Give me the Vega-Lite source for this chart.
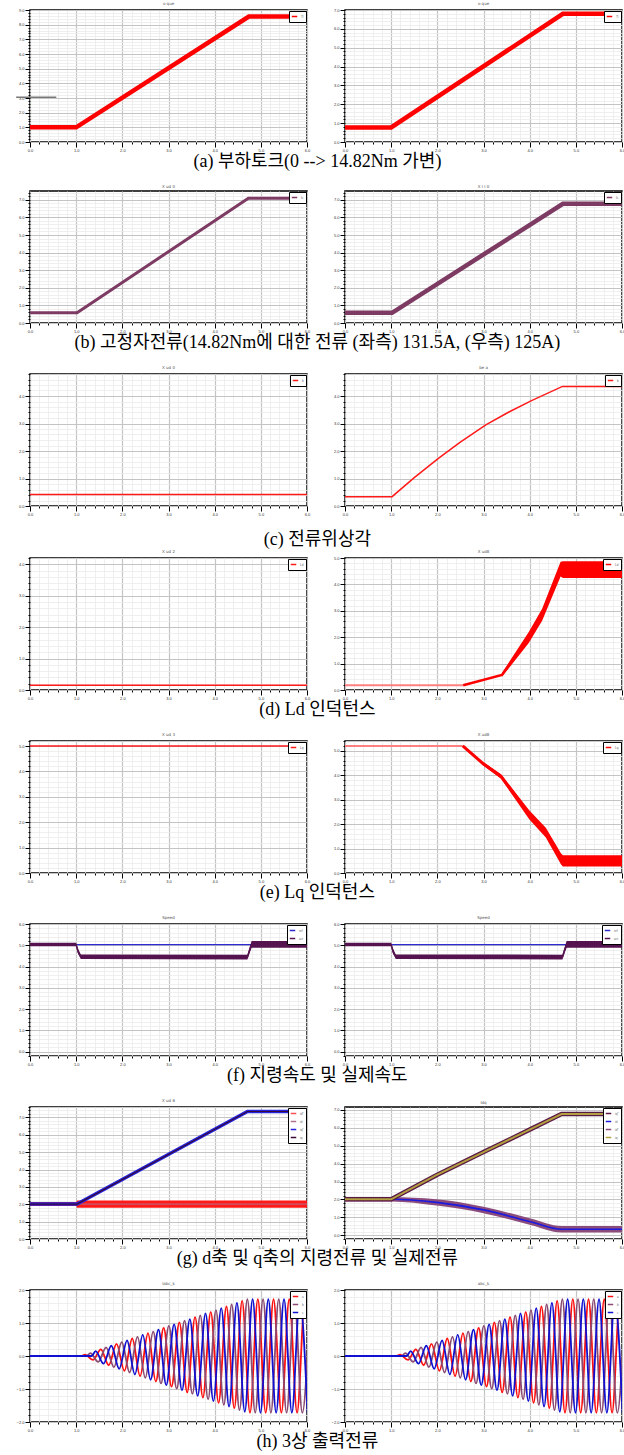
{
"$schema": "https://vega.github.io/schema/vega-lite/v6.json",
"background": "white",
"padding": {"left": 9, "top": 1, "right": 0, "bottom": 0},
"spacing": 0,
"resolve": {"scale": {"color": "independent"}, "legend": {"color": "independent"}},
"datasets": {
"aL": [{"x":0,"y":1,"s":"Tl"},{"x":1,"y":1,"s":"Tl"},{"x":4.74,"y":8.55,"s":"Tl"},{"x":6,"y":8.55,"s":"Tl"}],
"aLg": [{"x":-0.3,"y":3.05},{"x":0.57,"y":3.05}],
"aR": [{"x":0,"y":0.77,"s":"Tl"},{"x":1,"y":0.77,"s":"Tl"},{"x":4.72,"y":6.8,"s":"Tl"},{"x":6,"y":6.8,"s":"Tl"}],
"bL": [{"x":0,"y":0.58,"s":"Is"},{"x":1.02,"y":0.58,"s":"Is"},{"x":4.73,"y":7.09,"s":"Is"},{"x":6,"y":7.09,"s":"Is"}],
"bR": [{"x":0,"y":0.58,"s":"Is"},{"x":1.02,"y":0.58,"s":"Is"},{"x":4.72,"y":6.77,"s":"Is"},{"x":6,"y":6.77,"s":"Is"}],
"cL": [{"x":0,"y":0.42,"s":"b"},{"x":6,"y":0.42,"s":"b"}],
"cR": [{"x":0,"y":0.34,"s":"b"},{"x":1.02,"y":0.34,"s":"b"},{"x":1.5,"y":1.03,"s":"b"},{"x":2.03,"y":1.74,"s":"b"},{"x":2.49,"y":2.31,"s":"b"},{"x":3.05,"y":2.95,"s":"b"},{"x":3.54,"y":3.41,"s":"b"},{"x":4.04,"y":3.83,"s":"b"},{"x":4.71,"y":4.35,"s":"b"},{"x":6,"y":4.35,"s":"b"}],
"dL": [{"x":0,"y":0.15,"s":"Ld"},{"x":6,"y":0.15,"s":"Ld"}],
"dRp": [{"x":0,"y":0.18},{"x":2.56,"y":0.18}],
"dRl": [{"x":2.56,"y":0.18,"s":"Ld"},{"x":3.4,"y":0.57,"s":"Ld"},{"x":3.98,"y":1.99,"s":"Ld"},{"x":4.27,"y":2.85,"s":"Ld"},{"x":4.67,"y":4.58,"s":"Ld"},{"x":4.72,"y":4.56,"s":"Ld"},{"x":6,"y":4.56,"s":"Ld"}],
"dRb": [{"x":3.4,"y":0.64,"y2":0.5},{"x":3.98,"y":2.2,"y2":1.78},{"x":4.27,"y":3.08,"y2":2.62},{"x":4.67,"y":4.86,"y2":4.3},{"x":4.72,"y":4.88,"y2":4.24},{"x":6,"y":4.88,"y2":4.24}],
"eL": [{"x":0,"y":5.0,"s":"Lq"},{"x":6,"y":5.0,"s":"Lq"}],
"eRp": [{"x":0,"y":5.2},{"x":2.55,"y":5.2}],
"eRl": [{"x":2.55,"y":5.2,"s":"Lq"},{"x":2.98,"y":4.49,"s":"Lq"},{"x":3.38,"y":3.95,"s":"Lq"},{"x":3.99,"y":2.39,"s":"Lq"},{"x":4.35,"y":1.65,"s":"Lq"},{"x":4.68,"y":0.6,"s":"Lq"},{"x":4.72,"y":0.5,"s":"Lq"},{"x":6,"y":0.5,"s":"Lq"}],
"eRb": [{"x":2.98,"y":4.56,"y2":4.42},{"x":3.38,"y":4.04,"y2":3.86},{"x":3.99,"y":2.57,"y2":2.2},{"x":4.35,"y":1.85,"y2":1.45},{"x":4.68,"y":0.8,"y2":0.35},{"x":4.72,"y":0.73,"y2":0.27},{"x":6,"y":0.73,"y2":0.27}],
"fb": [{"x":0,"y":5.03,"s":"ref"},{"x":6,"y":5.03,"s":"ref"}],
"fp": [{"x":0,"y":5.03,"s":"act"},{"x":1.0,"y":5.03,"s":"act"},{"x":1.04,"y":4.7,"s":"act"},{"x":1.1,"y":4.47,"s":"act"},{"x":4.71,"y":4.45,"s":"act"},{"x":4.76,"y":4.8,"s":"act"},{"x":4.8,"y":5.04,"s":"act"},{"x":6,"y":5.04,"s":"act"}],
"fa": [{"x":0,"y":5.12,"y2":4.95},{"x":1.0,"y":5.12,"y2":4.95},{"x":1.04,"y":4.85,"y2":4.6},{"x":1.1,"y":4.57,"y2":4.36},{"x":4.71,"y":4.56,"y2":4.33},{"x":4.76,"y":4.92,"y2":4.65},{"x":4.8,"y":5.2,"y2":4.88},{"x":6,"y":5.2,"y2":4.88}],
"gLb": [{"x":0,"y":2.13,"y2":1.9},{"x":1.0,"y":2.13,"y2":1.9},{"x":1.02,"y":2.22,"y2":1.8},{"x":6,"y":2.22,"y2":1.8}],
"gLd": [{"x":0,"y":2.01,"s":"id"},{"x":6,"y":2.01,"s":"id"}],
"gLq": [{"x":0,"y":2.01,"s":"iq*"},{"x":1.02,"y":2.01,"s":"iq*"},{"x":4.71,"y":7.34,"s":"iq*"},{"x":6,"y":7.34,"s":"iq*"}],
"gLq2": [{"x":0,"y":2.01,"s":"iq"},{"x":1.02,"y":2.01,"s":"iq"},{"x":4.71,"y":7.34,"s":"iq"},{"x":6,"y":7.34,"s":"iq"}],
"gRb": [{"x":0,"y":2.13,"y2":1.89},{"x":1.0,"y":2.13,"y2":1.89},{"x":1.98,"y":2.02,"y2":1.66},{"x":3.0,"y":1.6,"y2":1.24},{"x":4.02,"y":0.94,"y2":0.58},{"x":4.69,"y":0.52,"y2":0.16},{"x":6,"y":0.52,"y2":0.16}],
"gRl": [{"x":0,"y":2.01,"s":"id"},{"x":1.0,"y":2.01,"s":"id"},{"x":1.98,"y":1.84,"s":"id"},{"x":3.0,"y":1.42,"s":"id"},{"x":4.02,"y":0.76,"s":"id"},{"x":4.69,"y":0.34,"s":"id"},{"x":6,"y":0.34,"s":"id"}],
"gRu": [{"x":0,"y":2.01,"s":"iq*"},{"x":1.0,"y":2.01,"s":"iq*"},{"x":2.0,"y":3.38,"s":"iq*"},{"x":3.0,"y":4.64,"s":"iq*"},{"x":4.0,"y":5.89,"s":"iq*"},{"x":4.69,"y":6.76,"s":"iq*"},{"x":6,"y":6.76,"s":"iq*"}],
"gRo": [{"x":0,"y":2.01,"s":"iq"},{"x":1.0,"y":2.01,"s":"iq"},{"x":2.0,"y":3.38,"s":"iq"},{"x":3.0,"y":4.64,"s":"iq"},{"x":4.0,"y":5.89,"s":"iq"},{"x":4.69,"y":6.76,"s":"iq"},{"x":6,"y":6.76,"s":"iq"}],
"h": [
{"x":0,"y":0,"s":"a"},{"x":1.11,"y":0,"s":"a"},{"x":1.195,"y":0.04,"s":"a"},{"x":1.365,"y":-0.12,"s":"a"},{"x":1.535,"y":0.2,"s":"a"},{"x":1.705,"y":-0.28,"s":"a"},{"x":1.875,"y":0.37,"s":"a"},{"x":2.045,"y":-0.45,"s":"a"},{"x":2.215,"y":0.53,"s":"a"},{"x":2.385,"y":-0.61,"s":"a"},{"x":2.555,"y":0.69,"s":"a"},{"x":2.725,"y":-0.77,"s":"a"},{"x":2.895,"y":0.85,"s":"a"},{"x":3.065,"y":-0.93,"s":"a"},{"x":3.235,"y":1.02,"s":"a"},{"x":3.405,"y":-1.1,"s":"a"},{"x":3.575,"y":1.18,"s":"a"},{"x":3.745,"y":-1.26,"s":"a"},{"x":3.915,"y":1.34,"s":"a"},{"x":4.085,"y":-1.42,"s":"a"},{"x":4.255,"y":1.5,"s":"a"},{"x":4.425,"y":-1.58,"s":"a"},{"x":4.595,"y":1.67,"s":"a"},{"x":4.765,"y":-1.72,"s":"a"},{"x":4.935,"y":1.72,"s":"a"},{"x":5.105,"y":-1.72,"s":"a"},{"x":5.275,"y":1.72,"s":"a"},{"x":5.445,"y":-1.72,"s":"a"},{"x":5.615,"y":1.72,"s":"a"},{"x":5.785,"y":-1.72,"s":"a"},{"x":5.955,"y":1.72,"s":"a"},{"x":6.125,"y":-1.72,"s":"a"},
{"x":0,"y":0,"s":"b"},{"x":1.223,"y":0,"s":"b"},{"x":1.308,"y":0.09,"s":"b"},{"x":1.478,"y":-0.18,"s":"b"},{"x":1.648,"y":0.26,"s":"b"},{"x":1.818,"y":-0.34,"s":"b"},{"x":1.988,"y":0.42,"s":"b"},{"x":2.158,"y":-0.5,"s":"b"},{"x":2.328,"y":0.58,"s":"b"},{"x":2.498,"y":-0.66,"s":"b"},{"x":2.668,"y":0.74,"s":"b"},{"x":2.838,"y":-0.83,"s":"b"},{"x":3.008,"y":0.91,"s":"b"},{"x":3.178,"y":-0.99,"s":"b"},{"x":3.348,"y":1.07,"s":"b"},{"x":3.518,"y":-1.15,"s":"b"},{"x":3.688,"y":1.23,"s":"b"},{"x":3.858,"y":-1.31,"s":"b"},{"x":4.028,"y":1.39,"s":"b"},{"x":4.198,"y":-1.48,"s":"b"},{"x":4.368,"y":1.56,"s":"b"},{"x":4.538,"y":-1.64,"s":"b"},{"x":4.708,"y":1.72,"s":"b"},{"x":4.878,"y":-1.72,"s":"b"},{"x":5.048,"y":1.72,"s":"b"},{"x":5.218,"y":-1.72,"s":"b"},{"x":5.388,"y":1.72,"s":"b"},{"x":5.558,"y":-1.72,"s":"b"},{"x":5.728,"y":1.72,"s":"b"},{"x":5.898,"y":-1.72,"s":"b"},{"x":6.068,"y":1.72,"s":"b"},
{"x":0,"y":0,"s":"c"},{"x":1.337,"y":0,"s":"c"},{"x":1.422,"y":0.15,"s":"c"},{"x":1.592,"y":-0.23,"s":"c"},{"x":1.762,"y":0.31,"s":"c"},{"x":1.932,"y":-0.39,"s":"c"},{"x":2.102,"y":0.47,"s":"c"},{"x":2.272,"y":-0.56,"s":"c"},{"x":2.442,"y":0.64,"s":"c"},{"x":2.612,"y":-0.72,"s":"c"},{"x":2.782,"y":0.8,"s":"c"},{"x":2.952,"y":-0.88,"s":"c"},{"x":3.122,"y":0.96,"s":"c"},{"x":3.292,"y":-1.04,"s":"c"},{"x":3.462,"y":1.12,"s":"c"},{"x":3.632,"y":-1.21,"s":"c"},{"x":3.802,"y":1.29,"s":"c"},{"x":3.972,"y":-1.37,"s":"c"},{"x":4.142,"y":1.45,"s":"c"},{"x":4.312,"y":-1.53,"s":"c"},{"x":4.482,"y":1.61,"s":"c"},{"x":4.652,"y":-1.69,"s":"c"},{"x":4.822,"y":1.72,"s":"c"},{"x":4.992,"y":-1.72,"s":"c"},{"x":5.162,"y":1.72,"s":"c"},{"x":5.332,"y":-1.72,"s":"c"},{"x":5.502,"y":1.72,"s":"c"},{"x":5.672,"y":-1.72,"s":"c"},{"x":5.842,"y":1.72,"s":"c"},{"x":6.012,"y":-1.72,"s":"c"}
]
},
"vconcat": [
{"spacing": 13,
 "resolve": {"scale": {"color": "independent"}, "legend": {"color": "independent"}},
 "vconcat": [
{"title": {"text": "(a) 부하토크(0 --> 14.82Nm 가변)", "orient": "bottom", "anchor": "middle", "fontSize": 18, "font": "Liberation Serif, Noto Sans CJK KR", "color": "#000", "offset": 0},
 "spacing": 13,
 "resolve": {"scale": {"color": "independent"}, "legend": {"color": "independent"}},
 "hconcat": [
 {"title": "o que", "width": 277, "height": 132,
  "encoding": {"x": {"field":"x","type":"quantitative","title":null,"scale":{"domain":[0,6],"nice":false,"zero":false},"axis":{"values":[0,0.2,0.4,0.6,0.8,1,1.2,1.4,1.6,1.8,2,2.2,2.4,2.6,2.8,3,3.2,3.4,3.6,3.8,4,4.2,4.4,4.6,4.8,5,5.2,5.4,5.6,5.8,6]}},
   "y": {"field":"y","type":"quantitative","title":null,"scale":{"domain":[0,9],"nice":false,"zero":false},"axis":{"values":[0,0.2,0.4,0.6,0.8,1,1.2,1.4,1.6,1.8,2,2.2,2.4,2.6,2.8,3,3.2,3.4,3.6,3.8,4,4.2,4.4,4.6,4.8,5,5.2,5.4,5.6,5.8,6,6.2,6.4,6.6,6.8,7,7.2,7.4,7.6,7.8,8,8.2,8.4,8.6,8.8,9]}}},
  "layer": [
   {"data": {"name": "aL"}, "mark": {"type":"line","strokeWidth":4.5,"clip":true}, "encoding": {"color": {"field":"s","type":"nominal","title":null,"scale":{"domain":["Tl"],"range":["#ff0000"]}}}},
   {"data": {"name": "aLg"}, "mark": {"type":"line","strokeWidth":1.5,"color":"#777","clip":false}}
  ]},
 {"title": "o que", "width": 277, "height": 132, "data": {"name": "aR"},
  "encoding": {"x": {"field":"x","type":"quantitative","title":null,"scale":{"domain":[0,6],"nice":false,"zero":false},"axis":{"values":[0,0.2,0.4,0.6,0.8,1,1.2,1.4,1.6,1.8,2,2.2,2.4,2.6,2.8,3,3.2,3.4,3.6,3.8,4,4.2,4.4,4.6,4.8,5,5.2,5.4,5.6,5.8,6]}},
   "y": {"field":"y","type":"quantitative","title":null,"scale":{"domain":[0,7],"nice":false,"zero":false},"axis":{"values":[0,0.2,0.4,0.6,0.8,1,1.2,1.4,1.6,1.8,2,2.2,2.4,2.6,2.8,3,3.2,3.4,3.6,3.8,4,4.2,4.4,4.6,4.8,5,5.2,5.4,5.6,5.8,6,6.2,6.4,6.6,6.8,7]}}},
  "layer": [{"mark": {"type":"line","strokeWidth":4.5,"clip":true}, "encoding": {"color": {"field":"s","type":"nominal","title":null,"scale":{"domain":["Tl"],"range":["#ff0000"]}}}}]}
 ]},
{"title": {"text": "(b) 고정자전류(14.82Nm에 대한 전류 (좌측) 131.5A, (우측) 125A)", "orient": "bottom", "anchor": "middle", "fontSize": 18, "font": "Liberation Serif, Noto Sans CJK KR", "color": "#000", "offset": 0},
 "spacing": 13,
 "resolve": {"scale": {"color": "independent"}, "legend": {"color": "independent"}},
 "hconcat": [
 {"title": "X  ud 0", "width": 277, "height": 132, "data": {"name": "bL"},
  "encoding": {"x": {"field":"x","type":"quantitative","title":null,"scale":{"domain":[0,6],"nice":false,"zero":false},"axis":{"values":[0,0.2,0.4,0.6,0.8,1,1.2,1.4,1.6,1.8,2,2.2,2.4,2.6,2.8,3,3.2,3.4,3.6,3.8,4,4.2,4.4,4.6,4.8,5,5.2,5.4,5.6,5.8,6]}},
   "y": {"field":"y","type":"quantitative","title":null,"scale":{"domain":[0,7.5],"nice":false,"zero":false},"axis":{"values":[0,0.2,0.4,0.6,0.8,1,1.2,1.4,1.6,1.8,2,2.2,2.4,2.6,2.8,3,3.2,3.4,3.6,3.8,4,4.2,4.4,4.6,4.8,5,5.2,5.4,5.6,5.8,6,6.2,6.4,6.6,6.8,7,7.2,7.4]}}},
  "layer": [{"mark": {"type":"line","strokeWidth":3,"clip":true}, "encoding": {"color": {"field":"s","type":"nominal","title":null,"scale":{"domain":["Is"],"range":["#7d3a63"]}}}}]},
 {"title": "X  I I 0", "width": 277, "height": 132, "data": {"name": "bR"},
  "encoding": {"x": {"field":"x","type":"quantitative","title":null,"scale":{"domain":[0,6],"nice":false,"zero":false},"axis":{"values":[0,0.2,0.4,0.6,0.8,1,1.2,1.4,1.6,1.8,2,2.2,2.4,2.6,2.8,3,3.2,3.4,3.6,3.8,4,4.2,4.4,4.6,4.8,5,5.2,5.4,5.6,5.8,6]}},
   "y": {"field":"y","type":"quantitative","title":null,"scale":{"domain":[0,7.5],"nice":false,"zero":false},"axis":{"values":[0,0.2,0.4,0.6,0.8,1,1.2,1.4,1.6,1.8,2,2.2,2.4,2.6,2.8,3,3.2,3.4,3.6,3.8,4,4.2,4.4,4.6,4.8,5,5.2,5.4,5.6,5.8,6,6.2,6.4,6.6,6.8,7,7.2,7.4]}}},
  "layer": [{"mark": {"type":"line","strokeWidth":4.5,"clip":true}, "encoding": {"color": {"field":"s","type":"nominal","title":null,"scale":{"domain":["Is"],"range":["#7d3a63"]}}}}]}
 ]},
{"title": {"text": "(c) 전류위상각", "orient": "bottom", "anchor": "middle", "fontSize": 18, "font": "Liberation Serif, Noto Sans CJK KR", "color": "#000", "offset": 14},
 "spacing": 13,
 "resolve": {"scale": {"color": "independent"}, "legend": {"color": "independent"}},
 "hconcat": [
 {"title": "X  ud 0", "width": 277, "height": 132, "data": {"name": "cL"},
  "encoding": {"x": {"field":"x","type":"quantitative","title":null,"scale":{"domain":[0,6],"nice":false,"zero":false},"axis":{"values":[0,0.2,0.4,0.6,0.8,1,1.2,1.4,1.6,1.8,2,2.2,2.4,2.6,2.8,3,3.2,3.4,3.6,3.8,4,4.2,4.4,4.6,4.8,5,5.2,5.4,5.6,5.8,6]}},
   "y": {"field":"y","type":"quantitative","title":null,"scale":{"domain":[0,4.8],"nice":false,"zero":false},"axis":{"values":[0,0.2,0.4,0.6,0.8,1,1.2,1.4,1.6,1.8,2,2.2,2.4,2.6,2.8,3,3.2,3.4,3.6,3.8,4,4.2,4.4,4.6,4.8]}}},
  "layer": [{"mark": {"type":"line","strokeWidth":1.5,"clip":true}, "encoding": {"color": {"field":"s","type":"nominal","title":null,"scale":{"domain":["b"],"range":["#ff1a1a"]}}}}]},
 {"title": "be a", "width": 277, "height": 132, "data": {"name": "cR"},
  "encoding": {"x": {"field":"x","type":"quantitative","title":null,"scale":{"domain":[0,6],"nice":false,"zero":false},"axis":{"values":[0,0.2,0.4,0.6,0.8,1,1.2,1.4,1.6,1.8,2,2.2,2.4,2.6,2.8,3,3.2,3.4,3.6,3.8,4,4.2,4.4,4.6,4.8,5,5.2,5.4,5.6,5.8,6]}},
   "y": {"field":"y","type":"quantitative","title":null,"scale":{"domain":[0,4.8],"nice":false,"zero":false},"axis":{"values":[0,0.2,0.4,0.6,0.8,1,1.2,1.4,1.6,1.8,2,2.2,2.4,2.6,2.8,3,3.2,3.4,3.6,3.8,4,4.2,4.4,4.6,4.8]}}},
  "layer": [{"mark": {"type":"line","strokeWidth":1.5,"clip":true}, "encoding": {"color": {"field":"s","type":"nominal","title":null,"scale":{"domain":["b"],"range":["#ff1a1a"]}}}}]}
 ]}
 ]},
{"spacing": 13,
 "resolve": {"scale": {"color": "independent"}, "legend": {"color": "independent"}},
 "vconcat": [
{"title": {"text": "(d) Ld 인덕턴스", "orient": "bottom", "anchor": "middle", "fontSize": 18, "font": "Liberation Serif, Noto Sans CJK KR", "color": "#000", "offset": 0},
 "spacing": 13,
 "resolve": {"scale": {"color": "independent"}, "legend": {"color": "independent"}},
 "hconcat": [
 {"title": "X  ud 2", "width": 277, "height": 132, "data": {"name": "dL"},
  "encoding": {"x": {"field":"x","type":"quantitative","title":null,"scale":{"domain":[0,6],"nice":false,"zero":false},"axis":{"values":[0,0.2,0.4,0.6,0.8,1,1.2,1.4,1.6,1.8,2,2.2,2.4,2.6,2.8,3,3.2,3.4,3.6,3.8,4,4.2,4.4,4.6,4.8,5,5.2,5.4,5.6,5.8,6]}},
   "y": {"field":"y","type":"quantitative","title":null,"scale":{"domain":[0,4.2],"nice":false,"zero":false},"axis":{"values":[0,0.2,0.4,0.6,0.8,1,1.2,1.4,1.6,1.8,2,2.2,2.4,2.6,2.8,3,3.2,3.4,3.6,3.8,4,4.2]}}},
  "layer": [{"mark": {"type":"line","strokeWidth":1.5,"clip":true}, "encoding": {"color": {"field":"s","type":"nominal","title":null,"scale":{"domain":["Ld"],"range":["#ff1a1a"]}}}}]},
 {"title": "X  ud8", "width": 277, "height": 132,
  "encoding": {"x": {"field":"x","type":"quantitative","title":null,"scale":{"domain":[0,6],"nice":false,"zero":false},"axis":{"values":[0,0.2,0.4,0.6,0.8,1,1.2,1.4,1.6,1.8,2,2.2,2.4,2.6,2.8,3,3.2,3.4,3.6,3.8,4,4.2,4.4,4.6,4.8,5,5.2,5.4,5.6,5.8,6]}},
   "y": {"field":"y","type":"quantitative","title":null,"scale":{"domain":[0,5],"nice":false,"zero":false},"axis":{"values":[0,0.2,0.4,0.6,0.8,1,1.2,1.4,1.6,1.8,2,2.2,2.4,2.6,2.8,3,3.2,3.4,3.6,3.8,4,4.2,4.4,4.6,4.8,5]}}},
  "layer": [
   {"data": {"name": "dRp"}, "mark": {"type":"line","strokeWidth":2,"color":"#ff8080","clip":true}},
   {"data": {"name": "dRb"}, "mark": {"type":"area","color":"#ff0000","clip":true}, "encoding": {"y2": {"field":"y2"}}},
   {"data": {"name": "dRl"}, "mark": {"type":"line","strokeWidth":2.5,"clip":true}, "encoding": {"color": {"field":"s","type":"nominal","title":null,"scale":{"domain":["Ld"],"range":["#ff0000"]}}}}
  ]}
 ]},
{"title": {"text": "(e) Lq 인덕턴스", "orient": "bottom", "anchor": "middle", "fontSize": 18, "font": "Liberation Serif, Noto Sans CJK KR", "color": "#000", "offset": 0},
 "spacing": 13,
 "resolve": {"scale": {"color": "independent"}, "legend": {"color": "independent"}},
 "hconcat": [
 {"title": "X  ud 3", "width": 277, "height": 132, "data": {"name": "eL"},
  "encoding": {"x": {"field":"x","type":"quantitative","title":null,"scale":{"domain":[0,6],"nice":false,"zero":false},"axis":{"values":[0,0.2,0.4,0.6,0.8,1,1.2,1.4,1.6,1.8,2,2.2,2.4,2.6,2.8,3,3.2,3.4,3.6,3.8,4,4.2,4.4,4.6,4.8,5,5.2,5.4,5.6,5.8,6]}},
   "y": {"field":"y","type":"quantitative","title":null,"scale":{"domain":[0,5.2],"nice":false,"zero":false},"axis":{"values":[0,0.2,0.4,0.6,0.8,1,1.2,1.4,1.6,1.8,2,2.2,2.4,2.6,2.8,3,3.2,3.4,3.6,3.8,4,4.2,4.4,4.6,4.8,5,5.2]}}},
  "layer": [{"mark": {"type":"line","strokeWidth":1.5,"clip":true}, "encoding": {"color": {"field":"s","type":"nominal","title":null,"scale":{"domain":["Lq"],"range":["#ff1a1a"]}}}}]},
 {"title": "X  ud8", "width": 277, "height": 132,
  "encoding": {"x": {"field":"x","type":"quantitative","title":null,"scale":{"domain":[0,6],"nice":false,"zero":false},"axis":{"values":[0,0.2,0.4,0.6,0.8,1,1.2,1.4,1.6,1.8,2,2.2,2.4,2.6,2.8,3,3.2,3.4,3.6,3.8,4,4.2,4.4,4.6,4.8,5,5.2,5.4,5.6,5.8,6]}},
   "y": {"field":"y","type":"quantitative","title":null,"scale":{"domain":[0,5.4],"nice":false,"zero":false},"axis":{"values":[0,0.2,0.4,0.6,0.8,1,1.2,1.4,1.6,1.8,2,2.2,2.4,2.6,2.8,3,3.2,3.4,3.6,3.8,4,4.2,4.4,4.6,4.8,5,5.2,5.4]}}},
  "layer": [
   {"data": {"name": "eRp"}, "mark": {"type":"line","strokeWidth":2,"color":"#ff8080","clip":true}},
   {"data": {"name": "eRb"}, "mark": {"type":"area","color":"#ff0000","clip":true}, "encoding": {"y2": {"field":"y2"}}},
   {"data": {"name": "eRl"}, "mark": {"type":"line","strokeWidth":3,"clip":true}, "encoding": {"color": {"field":"s","type":"nominal","title":null,"scale":{"domain":["Lq"],"range":["#ff0000"]}}}}
  ]}
 ]},
{"title": {"text": "(f) 지령속도 및 실제속도", "orient": "bottom", "anchor": "middle", "fontSize": 18, "font": "Liberation Serif, Noto Sans CJK KR", "color": "#000", "offset": 0},
 "spacing": 13,
 "resolve": {"scale": {"color": "independent"}, "legend": {"color": "independent"}},
 "hconcat": [
 {"title": "Speed", "width": 277, "height": 132,
  "encoding": {"x": {"field":"x","type":"quantitative","title":null,"scale":{"domain":[0,6],"nice":false,"zero":false},"axis":{"values":[0,0.2,0.4,0.6,0.8,1,1.2,1.4,1.6,1.8,2,2.2,2.4,2.6,2.8,3,3.2,3.4,3.6,3.8,4,4.2,4.4,4.6,4.8,5,5.2,5.4,5.6,5.8,6]}},
   "y": {"field":"y","type":"quantitative","title":null,"scale":{"domain":[-0.2,6],"nice":false,"zero":false},"axis":{"values":[-0.2,0,0.2,0.4,0.6,0.8,1,1.2,1.4,1.6,1.8,2,2.2,2.4,2.6,2.8,3,3.2,3.4,3.6,3.8,4,4.2,4.4,4.6,4.8,5,5.2,5.4,5.6,5.8,6]}}},
  "layer": [
   {"data": {"name": "fb"}, "mark": {"type":"line","strokeWidth":1.3,"clip":true}, "encoding": {"color": {"field":"s","type":"nominal","title":null,"scale":{"domain":["ref","act"],"range":["#2b2bd0","#55134f"]}}}},
   {"data": {"name": "fa"}, "mark": {"type":"area","color":"#55134f","clip":true}, "encoding": {"y2": {"field":"y2"}}},
   {"data": {"name": "fp"}, "mark": {"type":"line","strokeWidth":1.5,"clip":true}, "encoding": {"color": {"field":"s","type":"nominal","title":null,"scale":{"domain":["ref","act"],"range":["#2b2bd0","#55134f"]}}}}
  ]},
 {"title": "Speed", "width": 277, "height": 132,
  "encoding": {"x": {"field":"x","type":"quantitative","title":null,"scale":{"domain":[0,6],"nice":false,"zero":false},"axis":{"values":[0,0.2,0.4,0.6,0.8,1,1.2,1.4,1.6,1.8,2,2.2,2.4,2.6,2.8,3,3.2,3.4,3.6,3.8,4,4.2,4.4,4.6,4.8,5,5.2,5.4,5.6,5.8,6]}},
   "y": {"field":"y","type":"quantitative","title":null,"scale":{"domain":[-0.2,6],"nice":false,"zero":false},"axis":{"values":[-0.2,0,0.2,0.4,0.6,0.8,1,1.2,1.4,1.6,1.8,2,2.2,2.4,2.6,2.8,3,3.2,3.4,3.6,3.8,4,4.2,4.4,4.6,4.8,5,5.2,5.4,5.6,5.8,6]}}},
  "layer": [
   {"data": {"name": "fb"}, "mark": {"type":"line","strokeWidth":1.3,"clip":true}, "encoding": {"color": {"field":"s","type":"nominal","title":null,"scale":{"domain":["ref","act"],"range":["#2b2bd0","#55134f"]}}}},
   {"data": {"name": "fa"}, "mark": {"type":"area","color":"#55134f","clip":true}, "encoding": {"y2": {"field":"y2"}}},
   {"data": {"name": "fp"}, "mark": {"type":"line","strokeWidth":1.5,"clip":true}, "encoding": {"color": {"field":"s","type":"nominal","title":null,"scale":{"domain":["ref","act"],"range":["#2b2bd0","#55134f"]}}}}
  ]}
 ]},
{"title": {"text": "(g) d축 및 q축의 지령전류 및 실제전류", "orient": "bottom", "anchor": "middle", "fontSize": 18, "font": "Liberation Serif, Noto Sans CJK KR", "color": "#000", "offset": 0},
 "spacing": 13,
 "resolve": {"scale": {"color": "independent"}, "legend": {"color": "independent"}},
 "hconcat": [
 {"title": "X  ud 6", "width": 277, "height": 132,
  "encoding": {"x": {"field":"x","type":"quantitative","title":null,"scale":{"domain":[0,6],"nice":false,"zero":false},"axis":{"values":[0,0.2,0.4,0.6,0.8,1,1.2,1.4,1.6,1.8,2,2.2,2.4,2.6,2.8,3,3.2,3.4,3.6,3.8,4,4.2,4.4,4.6,4.8,5,5.2,5.4,5.6,5.8,6]}},
   "y": {"field":"y","type":"quantitative","title":null,"scale":{"domain":[0,7.6],"nice":false,"zero":false},"axis":{"values":[0,0.2,0.4,0.6,0.8,1,1.2,1.4,1.6,1.8,2,2.2,2.4,2.6,2.8,3,3.2,3.4,3.6,3.8,4,4.2,4.4,4.6,4.8,5,5.2,5.4,5.6,5.8,6,6.2,6.4,6.6,6.8,7,7.2,7.4,7.6]}}},
  "layer": [
   {"data": {"name": "gLb"}, "mark": {"type":"area","color":"#ff1a1a","clip":true}, "encoding": {"y2": {"field":"y2"}}},
   {"data": {"name": "gLd"}, "mark": {"type":"line","strokeWidth":1,"clip":true}, "encoding": {"color": {"field":"s","type":"nominal","title":null,"scale":{"domain":["id*","id","iq*","iq"],"range":["#ff5050","#b07090","#2222dd","#3a0a3a"]}}}},
   {"data": {"name": "gLq"}, "mark": {"type":"line","strokeWidth":3.5,"clip":true}, "encoding": {"color": {"field":"s","type":"nominal","title":null,"scale":{"domain":["id*","id","iq*","iq"],"range":["#ff5050","#b07090","#2222dd","#3a0a3a"]}}}},
   {"data": {"name": "gLq2"}, "mark": {"type":"line","strokeWidth":1.2,"clip":true}, "encoding": {"color": {"field":"s","type":"nominal","title":null,"scale":{"domain":["id*","id","iq*","iq"],"range":["#ff5050","#b07090","#2222dd","#3a0a3a"]}}}}
  ]},
 {"title": "Idq", "width": 277, "height": 132,
  "encoding": {"x": {"field":"x","type":"quantitative","title":null,"scale":{"domain":[0,6],"nice":false,"zero":false},"axis":{"values":[0,0.2,0.4,0.6,0.8,1,1.2,1.4,1.6,1.8,2,2.2,2.4,2.6,2.8,3,3.2,3.4,3.6,3.8,4,4.2,4.4,4.6,4.8,5,5.2,5.4,5.6,5.8,6]}},
   "y": {"field":"y","type":"quantitative","title":null,"scale":{"domain":[-0.2,7.15],"nice":false,"zero":false},"axis":{"values":[-0.2,0,0.2,0.4,0.6,0.8,1,1.2,1.4,1.6,1.8,2,2.2,2.4,2.6,2.8,3,3.2,3.4,3.6,3.8,4,4.2,4.4,4.6,4.8,5,5.2,5.4,5.6,5.8,6,6.2,6.4,6.6,6.8,7]}}},
  "layer": [
   {"data": {"name": "gRb"}, "mark": {"type":"area","color":"#8b4b7b","clip":true,"interpolate":"monotone"}, "encoding": {"y2": {"field":"y2"}}},
   {"data": {"name": "gRl"}, "mark": {"type":"line","strokeWidth":1.6,"clip":true,"interpolate":"monotone"}, "encoding": {"color": {"field":"s","type":"nominal","title":null,"scale":{"domain":["iq*","id","id*","iq"],"range":["#5a1846","#1a1ae0","#8b4b7b","#b0a040"]}}}},
   {"data": {"name": "gRu"}, "mark": {"type":"line","strokeWidth":4.5,"clip":true}, "encoding": {"color": {"field":"s","type":"nominal","title":null,"scale":{"domain":["iq*","id","id*","iq"],"range":["#5a1846","#1a1ae0","#8b4b7b","#b0a040"]}}}},
   {"data": {"name": "gRo"}, "mark": {"type":"line","strokeWidth":2,"clip":true}, "encoding": {"color": {"field":"s","type":"nominal","title":null,"scale":{"domain":["iq*","id","id*","iq"],"range":["#5a1846","#1a1ae0","#8b4b7b","#b0a040"]}}}}
  ]}
 ]},
{"title": {"text": "(h) 3상 출력전류", "orient": "bottom", "anchor": "middle", "fontSize": 18, "font": "Liberation Serif, Noto Sans CJK KR", "color": "#000", "offset": 0},
 "spacing": 13,
 "resolve": {"scale": {"color": "independent"}, "legend": {"color": "independent"}},
 "hconcat": [
 {"title": "Iabc_k", "width": 277, "height": 132, "data": {"name": "h"},
  "encoding": {"x": {"field":"x","type":"quantitative","title":null,"scale":{"domain":[0,6],"nice":false,"zero":false},"axis":{"values":[0,0.2,0.4,0.6,0.8,1,1.2,1.4,1.6,1.8,2,2.2,2.4,2.6,2.8,3,3.2,3.4,3.6,3.8,4,4.2,4.4,4.6,4.8,5,5.2,5.4,5.6,5.8,6]}},
   "y": {"field":"y","type":"quantitative","title":null,"scale":{"domain":[-2,2],"nice":false,"zero":false},"axis":{"values":[-2,-1.8,-1.6,-1.4,-1.2,-1,-0.8,-0.6,-0.4,-0.2,0,0.2,0.4,0.6,0.8,1,1.2,1.4,1.6,1.8,2]}}},
  "layer": [{"mark": {"type":"line","strokeWidth":1.8,"clip":true,"interpolate":"monotone"}, "encoding": {"color": {"field":"s","type":"nominal","title":null,"scale":{"domain":["a","b","c"],"range":["#ff1010","#8a4a72","#1010d0"]}}}}]},
 {"title": "abc_k", "width": 277, "height": 132, "data": {"name": "h"},
  "encoding": {"x": {"field":"x","type":"quantitative","title":null,"scale":{"domain":[0,6],"nice":false,"zero":false},"axis":{"values":[0,0.2,0.4,0.6,0.8,1,1.2,1.4,1.6,1.8,2,2.2,2.4,2.6,2.8,3,3.2,3.4,3.6,3.8,4,4.2,4.4,4.6,4.8,5,5.2,5.4,5.6,5.8,6]}},
   "y": {"field":"y","type":"quantitative","title":null,"scale":{"domain":[-2,2],"nice":false,"zero":false},"axis":{"values":[-2,-1.8,-1.6,-1.4,-1.2,-1,-0.8,-0.6,-0.4,-0.2,0,0.2,0.4,0.6,0.8,1,1.2,1.4,1.6,1.8,2]}}},
  "layer": [{"mark": {"type":"line","strokeWidth":1.8,"clip":true,"interpolate":"monotone"}, "encoding": {"color": {"field":"s","type":"nominal","title":null,"scale":{"domain":["a","b","c"],"range":["#ff1010","#8a4a72","#1010d0"]}}}}]}
 ]}
 ]}
],
"config": {
 "view": {"stroke": "#000", "strokeWidth": 1.5},
 "axis": {
  "domain": false,
  "grid": true,
  "gridColor": {"condition": {"test": "abs(datum.value-round(datum.value))<0.01", "value": "#c4c4c4"}, "value": "#ebebeb"},
  "gridWidth": {"condition": {"test": "abs(datum.value-round(datum.value))<0.01", "value": 1.2}, "value": 0.8},
  "tickColor": "#000",
  "tickWidth": 1,
  "tickSize": {"condition": {"test": "abs(datum.value-round(datum.value))<0.01", "value": 5}, "value": 2},
  "labelExpr": "abs(datum.value-round(datum.value))<0.01 ? datum.label : ''",
  "labelFontSize": 4,
  "labelColor": "#333",
  "labelPadding": 1,
  "labelOverlap": false,
  "labelFlush": false
 },
 "axisX": {"minExtent": 8, "maxExtent": 8},
 "axisY": {"minExtent": 20, "maxExtent": 20},
 "legend": {"orient": "top-right", "offset": 1, "fillColor": "#fff", "strokeColor": "#000", "padding": 2, "symbolType": "stroke", "symbolSize": 30, "symbolStrokeWidth": 1.5, "labelFontSize": 3, "labelColor": "#666", "rowPadding": 1, "labelOffset": 3, "labelLimit": 30},
 "title": {"fontSize": 4, "fontWeight": "normal", "color": "#555", "offset": 2, "font": "DejaVu Sans"}
}
}
